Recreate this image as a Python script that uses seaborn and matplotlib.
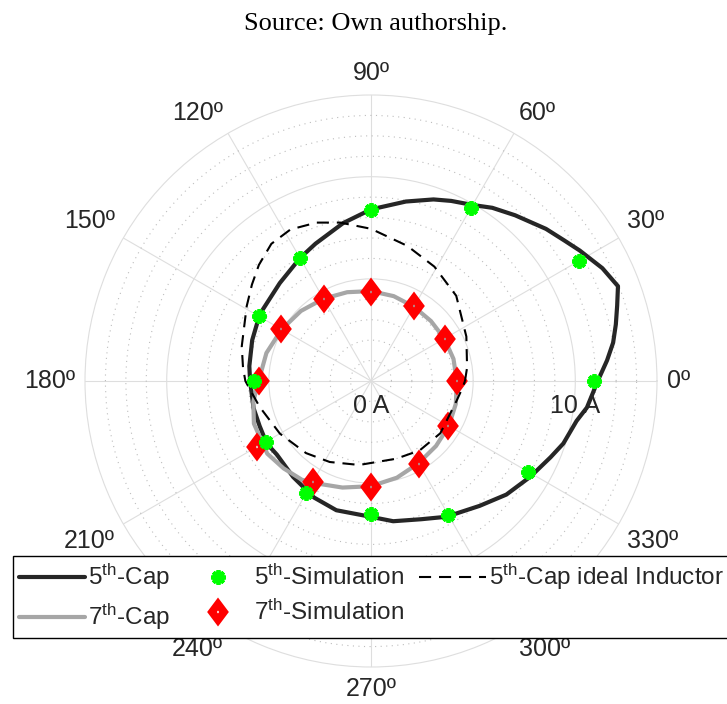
import numpy as np
import pandas as pd
import matplotlib
matplotlib.use("Agg")
import matplotlib.pyplot as plt
from matplotlib.markers import MarkerStyle
from matplotlib.transforms import Affine2D
import seaborn as sns

# ---- data: harmonic current phasors (magnitude in A, angle in degrees) ----
sim_angles_deg = [0, 30, 60, 90, 120, 150, 180, 210, 240, 270, 300, 330]
sim5_current = [10.9, 11.75, 9.8, 8.35, 6.95, 6.33, 5.74, 5.94, 6.32, 6.49, 7.58, 8.9]
sim7_current = [4.2, 4.16, 4.22, 4.38, 4.63, 5.06, 5.47, 6.44, 5.71, 5.18, 4.67, 4.38]

cap5_angles_deg = [0, 5, 9, 13, 17, 21, 26, 32, 36, 41, 49, 55, 60, 66, 71, 79, 90,
                   100, 112, 120, 133, 149, 161, 173, 180, 193, 202, 211, 218, 231,
                   244, 255, 270, 279, 290, 299, 311, 320, 329, 337, 342, 349, 353, 360]
cap5_current = [11.1, 11.6, 12.0, 12.3, 12.6, 12.95, 12.6, 12.05, 11.7, 11.35, 10.75,
                10.35, 9.95, 9.65, 9.4, 8.95, 8.4, 7.85, 7.25, 6.95, 6.55, 6.35, 6.15,
                6.0, 5.92, 5.9, 5.88, 5.95, 5.85, 6.05, 6.35, 6.55, 6.65, 6.95, 7.2,
                7.6, 8.1, 8.65, 9.1, 9.55, 9.9, 10.25, 10.65, 11.1]

cap7_angles_deg = [0, 15, 30, 45, 60, 75, 90, 105, 120, 135, 150, 165, 180, 190, 200,
                   215, 225, 235, 240, 255, 270, 285, 300, 315, 330, 345, 360]
cap7_current = [4.2, 4.18, 4.15, 4.15, 4.2, 4.3, 4.4, 4.5, 4.65, 4.85, 5.05, 5.3, 5.5,
                5.85, 6.1, 6.2, 6.05, 5.9, 5.75, 5.4, 5.15, 4.9, 4.65, 4.5, 4.4, 4.3, 4.2]

ideal5_angles_deg = [0, 8, 25, 45, 61, 75, 90, 101, 109, 118, 126, 134, 141, 149, 165,
                     174, 180, 193, 210, 228, 243, 262, 288, 305, 323, 347, 356, 360]
ideal5_current = [4.6, 4.75, 5.15, 5.9, 6.4, 6.85, 7.45, 7.9, 8.2, 8.4, 8.3, 7.9, 7.5,
                  7.1, 6.55, 6.3, 6.15, 5.6, 5.15, 4.75, 4.45, 4.15, 4.0, 4.15, 4.25,
                  4.3, 4.5, 4.6]

theta_tick_deg = list(range(0, 360, 30))
theta_tick_labels = [f"{d}º" for d in theta_tick_deg]
r_label_values = [0, 10]
r_label_texts = ["0 A", "10 A"]
r_max = 14

labels = [r"5$^{th}$-Cap", r"7$^{th}$-Cap", r"5$^{th}$-Simulation",
          r"7$^{th}$-Simulation", r"5$^{th}$-Cap ideal Inductor"]


def frame(angles_deg, values):
    return pd.DataFrame({"theta": np.deg2rad(angles_deg), "r": values})


# ---- style ----
sns.set_style("white")
plt.rcParams["font.family"] = ["Liberation Sans", "DejaVu Sans"]
plt.rcParams["mathtext.fontset"] = "custom"
plt.rcParams["mathtext.rm"] = "Liberation Sans"
plt.rcParams["mathtext.it"] = "Liberation Sans:italic"
plt.rcParams["mathtext.bf"] = "Liberation Sans:bold"
plt.rcParams["mathtext.default"] = "regular"

W, H = 727, 704
fig = plt.figure(figsize=(W / 100, H / 100), dpi=100)
cx, cy, R = 371, 381, 286
ax = fig.add_axes([(cx - R) / W, (H - cy - R) / H, 2 * R / W, 2 * R / H],
                  projection="polar")

grid_major = "#DEDEDE"
grid_minor = "#BDBDBD"
text_col = "#262626"

ax.set_ylim(0, r_max)
ax.set_yticks([5, 10])
ax.set_yticks([v for v in range(1, r_max) if v % 5], minor=True)
ax.set_xticks(np.deg2rad(theta_tick_deg))
ax.set_xticklabels([])
ax.set_yticklabels([])
ax.tick_params(length=0, which="both")
ax.grid(which="major", color=grid_major, lw=0.8, ls="-")
ax.yaxis.grid(which="minor", color=grid_minor, lw=0.8, ls=(0, (1, 4)))
ax.spines["polar"].set_color(grid_major)
ax.spines["polar"].set_linewidth(0.8)

# ---- curves ----
sns.lineplot(data=frame(cap5_angles_deg, cap5_current), x="theta", y="r", ax=ax,
             color="#262626", lw=3.0, sort=False, label=labels[0], zorder=3)
sns.lineplot(data=frame(cap7_angles_deg, cap7_current), x="theta", y="r", ax=ax,
             color="#A6A6A6", lw=3.0, sort=False, label=labels[1], zorder=3)
sns.lineplot(data=frame(sim_angles_deg, sim5_current), x="theta", y="r", ax=ax,
             color="#00FF00", linestyle="", marker=(8, 2, 0), ms=10.5, mew=2.8,
             mec="#00FF00", sort=False, label=labels[2], zorder=6)
diamond = MarkerStyle("D", fillstyle="none", transform=Affine2D().scale(0.74, 1.0))
sns.lineplot(data=frame(sim_angles_deg, sim7_current), x="theta", y="r", ax=ax,
             color="#FF0000", linestyle="", marker=diamond, ms=8.0, mew=5.6,
             mec="#FF0000", mfc="none", sort=False, label=labels[3], zorder=4)
sns.lineplot(data=frame(ideal5_angles_deg, ideal5_current), x="theta", y="r", ax=ax,
             color="black", lw=1.5, sort=False, label=labels[4], zorder=5)
ax.get_lines()[-1].set_dashes((5.8, 3.8))
ax.set_xlabel("")
ax.set_ylabel("")

# ---- angle labels ----
r_lab = r_max + 10 / (R / r_max)
for d, t in zip(theta_tick_deg, theta_tick_labels):
    c, s = np.cos(np.deg2rad(d)), np.sin(np.deg2rad(d))
    ha = "left" if c > 0.05 else ("right" if c < -0.05 else "center")
    va = "bottom" if s > 0.05 else ("top" if s < -0.05 else "center")
    ax.text(np.deg2rad(d), r_lab, t, ha=ha, va=va, fontsize=18, color=text_col,
            clip_on=False)

# ---- radial labels ----
for v, t in zip(r_label_values, r_label_texts):
    ax.annotate(t, xy=(0, v), xytext=(0, -13), textcoords="offset pixels",
                ha="center", va="top", fontsize=18, color=text_col, zorder=7)

# ---- legend ----
handles = ax.get_lines()[-5:]
leg = ax.legend(handles, labels, loc="upper left",
                bbox_to_anchor=(12.5 / W, 1 - 556 / H), bbox_transform=fig.transFigure,
                ncol=3, fontsize=17.5, frameon=True, fancybox=False, framealpha=1,
                edgecolor="black", borderpad=0.25, handlelength=2.74,
                handletextpad=0.12, columnspacing=0.6, labelspacing=0.4,
                borderaxespad=0, numpoints=1)
leg.get_frame().set_linewidth(1.0)
leg.set_zorder(10)

fig.text(375.5 / W, 1 - 24 / H, "Source: Own authorship.", ha="center", va="center",
         fontsize=19, family=["Liberation Serif", "DejaVu Serif"], color="black")

fig.savefig("out.png", dpi=100, facecolor="white")
